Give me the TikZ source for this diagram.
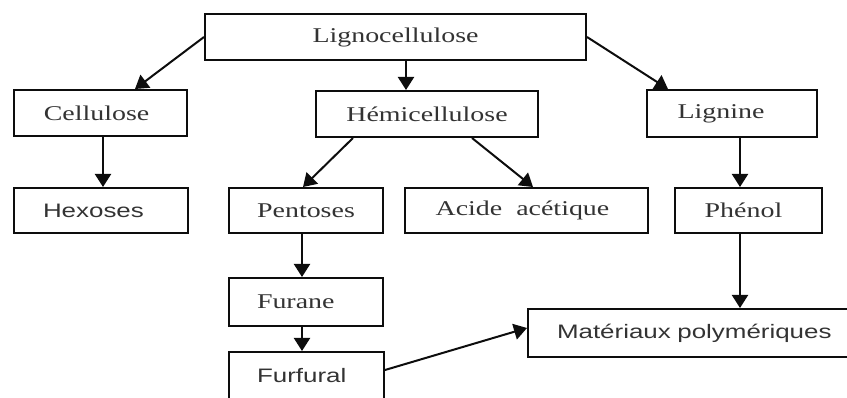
\documentclass[tikz,border=0pt]{standalone}
\usepackage{fontspec}
\usetikzlibrary{arrows.meta}
\newfontfamily\srf[FakeStretch=1.33]{Liberation Serif}
\newfontfamily\ssf[FakeStretch=1.33]{Liberation Sans}
\definecolor{txt}{rgb}{0.2,0.2,0.2}
\definecolor{ln}{rgb}{0.05,0.05,0.05}
\begin{document}
\begin{tikzpicture}[x=1pt,y=-1pt,
  box/.style={draw=ln,line width=2pt,rectangle,inner sep=0pt,text=txt,anchor=center},
  sbox/.style={box,font=\srf\fontsize{21}{24}\selectfont},
  sanbox/.style={box,font=\ssf\fontsize{19.5}{22}\selectfont},
  arr/.style={draw=ln,line width=2pt,-{Triangle[width=16pt,length=13pt]}}]
\useasboundingbox (0,0) rectangle (847,398);
\clip (0,0) rectangle (847,398);
\node[sbox,minimum width=381pt,minimum height=46pt] (ligno) at (395.5,37) {Lignocellulose};
\node[sbox,minimum width=173pt,minimum height=46pt] (cell) at (100.5,113) {\hspace*{-8pt}Cellulose};
\node[sbox,minimum width=222pt,minimum height=46pt] (hemi) at (427,114) {Hémicellulose};
\node[sbox,minimum width=170pt,minimum height=47pt] (lign) at (732,113.5) {\hspace*{-22pt}Lignine};
\node[sanbox,minimum height=45pt,text width=116pt,inner xsep=29pt,align=left] (hex) at (101,210.5) {Hexoses};
\node[sbox,minimum width=154pt,minimum height=45pt] (pent) at (306,210.5) {Pentoses};
\node[sbox,minimum width=243pt,minimum height=45pt] (acid) at (526.5,210.5) {\hspace*{-8pt}Acide\ \ acétique};
\node[sbox,minimum width=147pt,minimum height=45pt] (phen) at (748.5,210.5) {\hspace*{-10pt}Phénol};
\node[sbox,minimum height=48pt,text width=98pt,inner xsep=28pt,align=left] (fura) at (306,302) {Furane};
\node[sanbox,minimum height=48pt,text width=99pt,inner xsep=28pt,align=left] (furf) at (306.5,376) {Furfural};
\node[sanbox,minimum height=48pt,text width=300pt,inner xsep=29pt,align=left] (mat) at (707,333) {Matériaux polymériques};
% arrows
\draw[arr] (ligno.west) -- ([xshift=34.5pt]cell.north);
\draw[arr] ([xshift=10.5pt]ligno.south) -- ([xshift=10.5pt]ligno.south |- hemi.north);
\draw[arr] (ligno.east) -- ([xshift=-64pt]lign.north);
\draw[arr] ([xshift=2.5pt]cell.south) -- ([xshift=2.5pt]cell.south |- hex.north);
\draw[arr] ([xshift=-74pt]hemi.south) -- ([xshift=-3pt]pent.north);
\draw[arr] ([xshift=45pt]hemi.south) -- ([xshift=6.5pt]acid.north);
\draw[arr] ([xshift=8pt]lign.south) -- ([xshift=8pt]lign.south |- phen.north);
\draw[arr] ([xshift=-4pt]pent.south) -- ([xshift=-4pt]pent.south |- fura.north);
\draw[arr] ([xshift=-4pt]fura.south) -- ([xshift=-4pt]fura.south |- furf.north);
\draw[arr] ([xshift=-8.5pt]phen.south) -- ([xshift=-8.5pt]phen.south |- mat.north);
\draw[arr] ([yshift=6pt]furf.east) -- ([yshift=5pt]mat.west);
\end{tikzpicture}
\end{document}
